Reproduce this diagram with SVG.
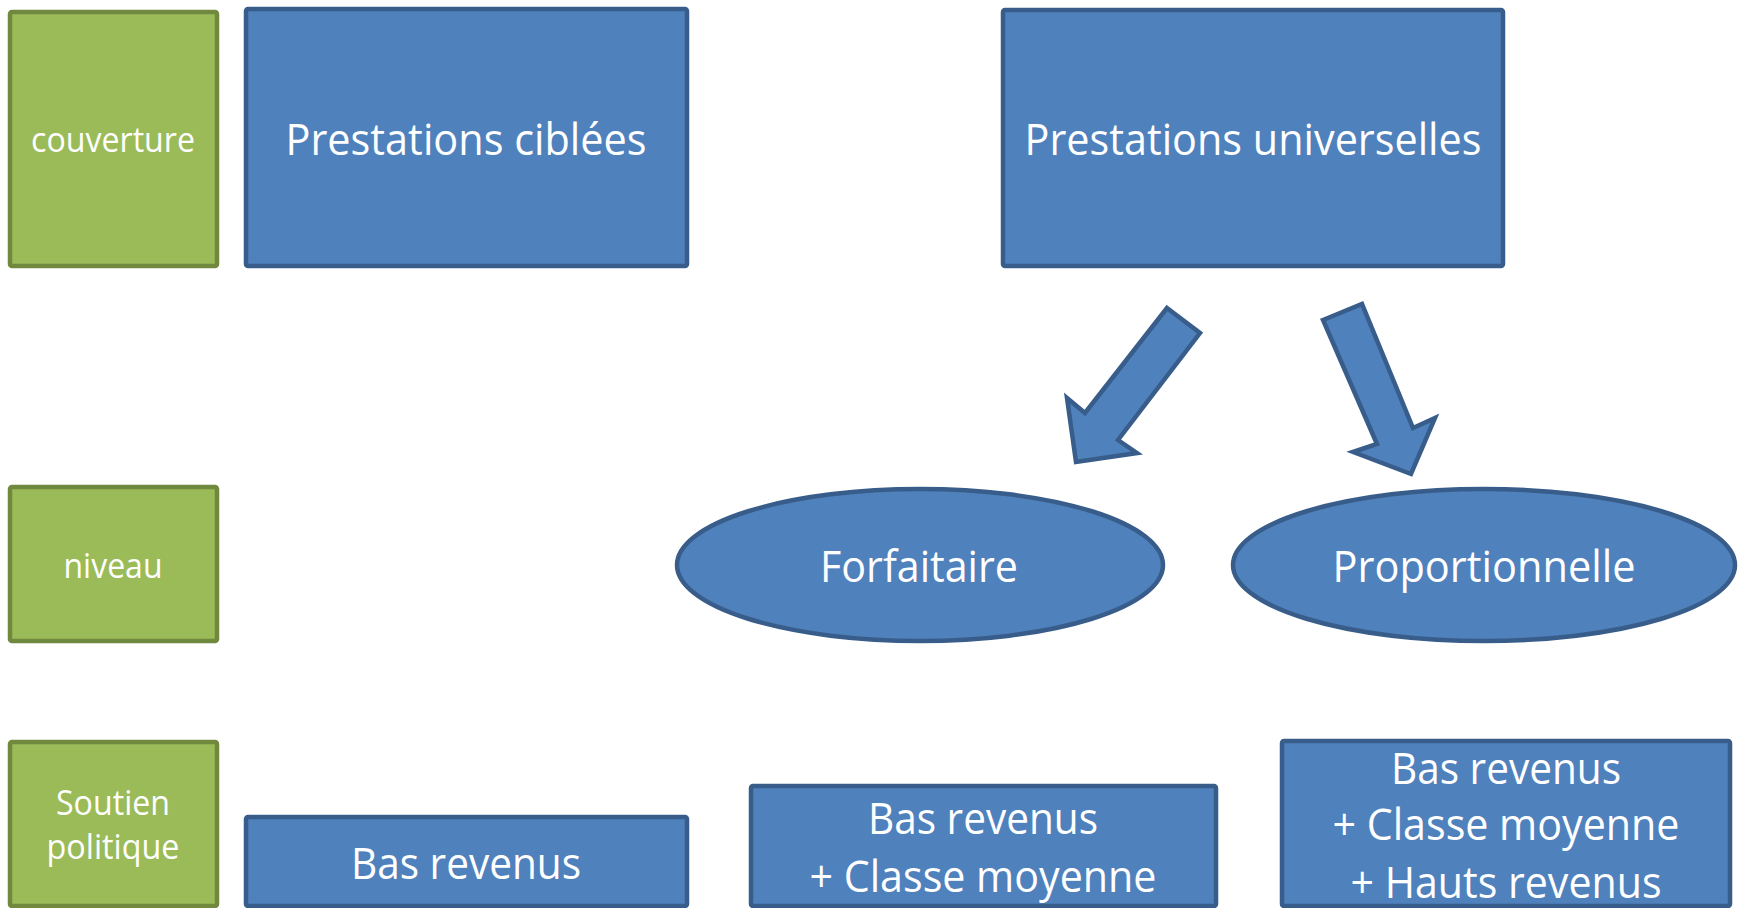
<svg xmlns="http://www.w3.org/2000/svg" width="1740" height="908" viewBox="0 0 1740 908">
<style>
.g{fill:#9BBB59;stroke:#71893F;stroke-width:4.5}
.b{fill:#4F81BD;stroke:#385D8A;stroke-width:4.5}
.t{fill:#fff;font-family:"Open Sans","Noto Sans","DejaVu Sans",sans-serif;text-anchor:middle}
.L{font-size:44px}
.S{font-size:34px}
</style>
<rect width="1740" height="908" fill="#fff"/>
<g id="couverture"><rect class="g" x="10" y="12" width="207" height="254" rx="2"/><text class="t S" x="113" y="152" textLength="164" lengthAdjust="spacingAndGlyphs">couverture</text></g>
<g id="ciblees"><rect class="b" x="246" y="9" width="441" height="257" rx="2"/><text class="t L" x="466" y="155" textLength="361" lengthAdjust="spacingAndGlyphs">Prestations ciblées</text></g>
<g id="universelles"><rect class="b" x="1003" y="10" width="500" height="256" rx="2"/><text class="t L" x="1253" y="155" textLength="457" lengthAdjust="spacingAndGlyphs">Prestations universelles</text></g>
<g id="niveau"><rect class="g" x="10" y="487" width="207" height="154" rx="2"/><text class="t S" x="113" y="578" textLength="99" lengthAdjust="spacingAndGlyphs">niveau</text></g>
<g id="forfaitaire"><ellipse class="b" cx="920" cy="565" rx="243" ry="76"/><text class="t L" x="919" y="582" textLength="198" lengthAdjust="spacingAndGlyphs">Forfaitaire</text></g>
<g id="proportionnelle"><ellipse class="b" cx="1484" cy="565" rx="251" ry="76"/><text class="t L" x="1484" y="582" textLength="303" lengthAdjust="spacingAndGlyphs">Proportionnelle</text></g>
<g id="soutien"><rect class="g" x="10" y="742" width="207" height="164" rx="2"/><text class="t S" x="113" y="815" textLength="114" lengthAdjust="spacingAndGlyphs">Soutien</text><text class="t S" x="113" y="859" textLength="133" lengthAdjust="spacingAndGlyphs">politique</text></g>
<g id="bas1"><rect class="b" x="246" y="817" width="441" height="89" rx="2"/><text class="t L" x="466" y="879" textLength="230" lengthAdjust="spacingAndGlyphs">Bas revenus</text></g>
<g id="bas2"><rect class="b" x="751" y="786" width="465" height="120" rx="2"/><text class="t L" x="983" y="834" textLength="230" lengthAdjust="spacingAndGlyphs">Bas revenus</text><text class="t L" x="983" y="892" textLength="347" lengthAdjust="spacingAndGlyphs">+ Classe moyenne</text></g>
<g id="bas3"><rect class="b" x="1282" y="741" width="448" height="165" rx="2"/><text class="t L" x="1506" y="784" textLength="230" lengthAdjust="spacingAndGlyphs">Bas revenus</text><text class="t L" x="1506" y="840" textLength="347" lengthAdjust="spacingAndGlyphs">+ Classe moyenne</text><text class="t L" x="1506" y="898" textLength="311" lengthAdjust="spacingAndGlyphs">+ Hauts revenus</text></g>
<g id="connectors">
<polygon class="b" points="1167,308 1200,333 1118,440 1137,453 1076,462 1067,398 1085,413"/>
<polygon class="b" points="1323,320 1362,304 1413,428 1435,418 1411,474 1353,452 1377,444"/>
</g>
</svg>
